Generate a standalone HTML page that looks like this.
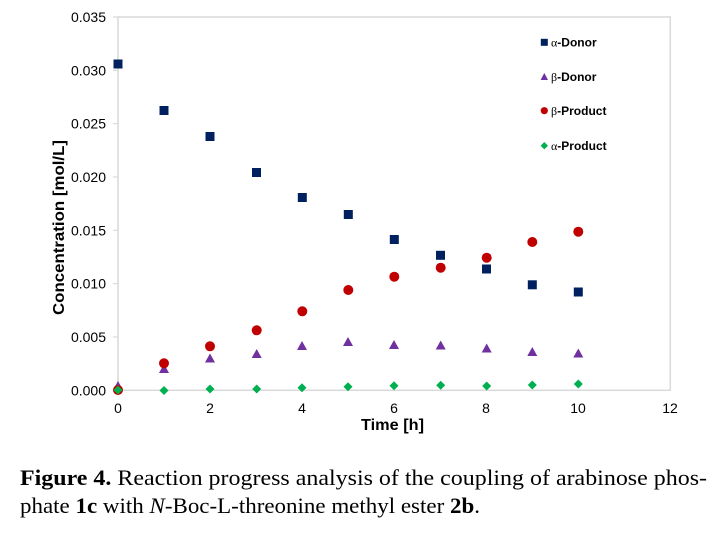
<!DOCTYPE html>
<html>
<head>
<meta charset="utf-8">
<style>
html,body{margin:0;padding:0;background:#fff;}
svg{display:block;}
</style>
</head>
<body>
<svg width="725" height="533" viewBox="0 0 725 533" xmlns="http://www.w3.org/2000/svg">
  <rect x="0" y="0" width="725" height="533" fill="#fff"/>
  <!-- plot box -->
  <rect x="118" y="17" width="552.3" height="373.3" fill="none" stroke="#d9d9d9" stroke-width="1.5"/>
  <!-- y ticks -->
  <g stroke="#d9d9d9" stroke-width="1.2">
    <line x1="113" y1="390.3" x2="118" y2="390.3"/>
    <line x1="113" y1="337" x2="118" y2="337"/>
    <line x1="113" y1="283.7" x2="118" y2="283.7"/>
    <line x1="113" y1="230.3" x2="118" y2="230.3"/>
    <line x1="113" y1="177" x2="118" y2="177"/>
    <line x1="113" y1="123.7" x2="118" y2="123.7"/>
    <line x1="113" y1="70.3" x2="118" y2="70.3"/>
    <line x1="113" y1="17" x2="118" y2="17"/>
  </g>
  <!-- y tick labels -->
  <g font-family="Liberation Sans, Arial, sans-serif" font-size="14" fill="#000" text-anchor="end">
    <text x="106" y="395.3">0.000</text>
    <text x="106" y="342">0.005</text>
    <text x="106" y="288.7">0.010</text>
    <text x="106" y="235.3">0.015</text>
    <text x="106" y="182">0.020</text>
    <text x="106" y="128.7">0.025</text>
    <text x="106" y="75.3">0.030</text>
    <text x="106" y="22">0.035</text>
  </g>
  <!-- x tick labels -->
  <g font-family="Liberation Sans, Arial, sans-serif" font-size="14" fill="#000" text-anchor="middle">
    <text x="118" y="413">0</text>
    <text x="210" y="413">2</text>
    <text x="302" y="413">4</text>
    <text x="394" y="413">6</text>
    <text x="486" y="413">8</text>
    <text x="578" y="413">10</text>
    <text x="670" y="413">12</text>
  </g>
  <!-- axis titles -->
  <text x="361" y="430" font-family="Liberation Sans, Arial, sans-serif" font-size="16" font-weight="bold" textLength="63" lengthAdjust="spacingAndGlyphs">Time [h]</text>
  <text transform="translate(64,315) rotate(-90)" x="0" y="0" font-family="Liberation Sans, Arial, sans-serif" font-size="16" font-weight="bold" textLength="175" lengthAdjust="spacingAndGlyphs">Concentration [mol/L]</text>

  <!-- alpha-Donor squares -->
  <g fill="#002060">
    <rect x="113.5" y="59.5" width="9" height="9"/>
    <rect x="159.5" y="106" width="9" height="9"/>
    <rect x="205.5" y="132" width="9" height="9"/>
    <rect x="252" y="168" width="9" height="9"/>
    <rect x="297.8" y="193" width="9" height="9"/>
    <rect x="343.8" y="210" width="9" height="9"/>
    <rect x="389.8" y="235" width="9" height="9"/>
    <rect x="436" y="250.8" width="9" height="9"/>
    <rect x="482" y="264.5" width="9" height="9"/>
    <rect x="527.8" y="280.3" width="9" height="9"/>
    <rect x="573.8" y="287.5" width="9" height="9"/>
  </g>
  <!-- beta-Donor triangles -->
  <g fill="#7030A0">
    <polygon points="118,381 123,390 113,390"/>
    <polygon points="164,364 169,373 159,373"/>
    <polygon points="210,353.5 215,362.5 205,362.5"/>
    <polygon points="256.7,349 261.7,358 251.7,358"/>
    <polygon points="302,341 307,350 297,350"/>
    <polygon points="348,337 353,346 343,346"/>
    <polygon points="394,340 399,349 389,349"/>
    <polygon points="440.7,340.5 445.7,349.5 435.7,349.5"/>
    <polygon points="486.7,343.5 491.7,352.5 481.7,352.5"/>
    <polygon points="532.3,347 537.3,356 527.3,356"/>
    <polygon points="578.3,348.5 583.3,357.5 573.3,357.5"/>
  </g>
  <!-- beta-Product circles -->
  <g fill="#C00000">
    <circle cx="118" cy="390" r="5"/>
    <circle cx="164" cy="363.3" r="5"/>
    <circle cx="210" cy="346.3" r="5"/>
    <circle cx="256.7" cy="330.3" r="5"/>
    <circle cx="302.3" cy="311.3" r="5"/>
    <circle cx="348.3" cy="290" r="5"/>
    <circle cx="394.3" cy="276.7" r="5"/>
    <circle cx="440.7" cy="267.7" r="5"/>
    <circle cx="486.7" cy="257.7" r="5"/>
    <circle cx="532.3" cy="242" r="5"/>
    <circle cx="578.3" cy="231.7" r="5"/>
  </g>
  <!-- alpha-Product diamonds -->
  <g fill="#00B050">
    <polygon points="118,385.5 122.5,390 118,394.5 113.5,390"/>
    <polygon points="164,386 168.5,390.5 164,395 159.5,390.5"/>
    <polygon points="210,384.5 214.5,389 210,393.5 205.5,389"/>
    <polygon points="256.7,384.5 261.2,389 256.7,393.5 252.2,389"/>
    <polygon points="302,383.2 306.5,387.7 302,392.2 297.5,387.7"/>
    <polygon points="348,382.2 352.5,386.7 348,391.2 343.5,386.7"/>
    <polygon points="394,381.2 398.5,385.7 394,390.2 389.5,385.7"/>
    <polygon points="440.7,380.8 445.2,385.3 440.7,389.8 436.2,385.3"/>
    <polygon points="486.7,381.5 491.2,386 486.7,390.5 482.2,386"/>
    <polygon points="532.3,380.5 536.8,385 532.3,389.5 527.8,385"/>
    <polygon points="578.3,379.5 582.8,384 578.3,388.5 573.8,384"/>
  </g>

  <!-- legend -->
  <rect x="540.8" y="38.8" width="7" height="7" fill="#002060"/>
  <polygon points="544.3,73 548,80 540.6,80" fill="#7030A0"/>
  <circle cx="544.3" cy="110.7" r="3.6" fill="#C00000"/>
  <polygon points="544.3,142 548,145.7 544.3,149.4 540.6,145.7" fill="#00B050"/>
  <g font-family="Liberation Sans, Arial, sans-serif" font-size="12" font-weight="bold" fill="#000">
    <text x="551" y="46.5"><tspan font-weight="normal" font-family="Liberation Serif, serif">α</tspan>-Donor</text>
    <text x="551" y="81"><tspan font-weight="normal" font-family="Liberation Serif, serif">β</tspan>-Donor</text>
    <text x="551" y="115"><tspan font-weight="normal" font-family="Liberation Serif, serif">β</tspan>-Product</text>
    <text x="551" y="150"><tspan font-weight="normal" font-family="Liberation Serif, serif">α</tspan>-Product</text>
  </g>

  <!-- caption -->
  <g font-family="Liberation Serif, 'Times New Roman', serif" font-size="22" fill="#000">
    <text x="20" y="485" textLength="687" lengthAdjust="spacingAndGlyphs"><tspan font-weight="bold">Figure 4.</tspan> Reaction progress analysis of the coupling of arabinose phos-</text>
    <text x="20" y="513" textLength="460" lengthAdjust="spacingAndGlyphs">phate <tspan font-weight="bold">1c</tspan> with <tspan font-style="italic">N</tspan>-Boc-L-threonine methyl ester <tspan font-weight="bold">2b</tspan>.</text>
  </g>
</svg>
</body>
</html>
